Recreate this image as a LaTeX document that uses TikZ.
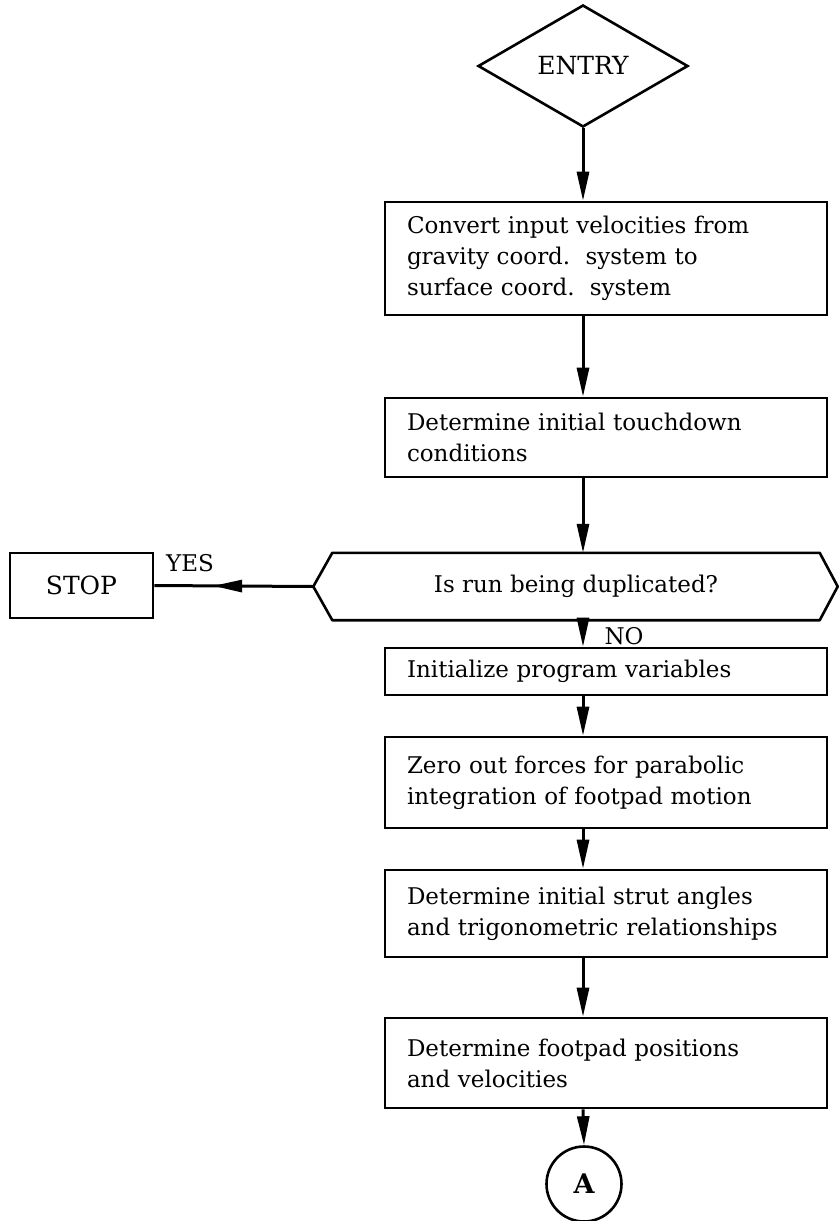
\documentclass[tikz,border=0pt]{standalone}
\usepackage{fontspec}
\setmainfont{DejaVu Serif}
\usetikzlibrary{arrows.meta,shapes.geometric,decorations.markings,calc}
\begin{document}
\begin{tikzpicture}[x=1pt,y=-1pt,
  font=\fontsize{23}{31}\selectfont,
  outline/.style={draw,line width=2.6pt},
  procbox/.style={outline,rectangle,minimum width=442pt,text width=398pt,
    inner xsep=22pt,inner ysep=0pt,align=left},
  flow/.style={line width=3pt,-{Triangle[length=29pt,width=12pt]}},
  plain/.style={line width=3pt},
  midarrow/.style={plain,postaction={decorate},
    decoration={markings,mark=at position #1 with {\arrow{Triangle[length=29pt,width=12pt]}}}}]
\useasboundingbox (0,0) rectangle (839,1221);

% entry point
\node[outline,diamond,minimum width=210pt,minimum height=122pt,inner sep=0pt,
  font=\fontsize{25}{30}\selectfont]
  (entry) at (583,66) {\raisebox{-7pt}{ENTRY}};

% processing blocks
\node[procbox,minimum height=113pt] (b1) at (606,258.5)
  {Convert input velocities from\\gravity coord.\ \ system to\\surface coord.\ \ system};
\node[procbox,minimum height=79pt] (b2) at (606,437.5)
  {Determine initial touchdown\\conditions};

% decision
\node[minimum width=487pt,minimum height=67pt,inner sep=0pt] (dec) at (576,586.5)
  {Is run being duplicated?};
\coordinate (decL) at ($(dec.west)+(-19,0)$);
\coordinate (decR) at ($(dec.east)+(18,0)$);
\draw[outline,line join=round] (dec.north west) -- (dec.north east) -- (decR)
  -- (dec.south east) -- (dec.south west) -- (decL) -- cycle;

\node[outline,rectangle,minimum width=143pt,minimum height=65pt,inner sep=0pt,
  font=\fontsize{25}{30}\selectfont]
  (stop) at (81.5,585.5) {STOP};

\node[procbox,minimum height=47pt] (b3) at (606,671.5)
  {Initialize program variables};
\node[procbox,minimum height=91pt] (b4) at (606,782.5)
  {Zero out forces for parabolic\\integration of footpad motion};
\node[procbox,minimum height=87pt] (b5) at (606,913.5)
  {Determine initial strut angles\\and trigonometric relationships};
\node[procbox,minimum height=90pt] (b6) at (606,1063)
  {Determine footpad positions\\and velocities};

% off-page connector
\node[outline,circle,minimum size=75pt,inner sep=0pt,
  font=\bfseries\fontsize{27}{30}\selectfont] (conA) at (584,1184) {A};

% connectors along the main spine
\draw[flow] (entry.south) -- (entry.south |- b1.north);
\draw[flow] (entry.south |- b1.south) -- (entry.south |- b2.north);
\draw[flow] (entry.south |- b2.south) -- (entry.south |- dec.north);
\draw[flow] (entry.south |- dec.south) -- (entry.south |- b3.north);
\draw[flow] (entry.south |- b3.south) -- (entry.south |- b4.north);
\draw[flow] (entry.south |- b4.south) -- (entry.south |- b5.north);
\draw[flow] (entry.south |- b5.south) -- (entry.south |- b6.north);
\draw[flow] (entry.south |- b6.south) -- (conA.north);

% exit branch
\draw[midarrow=0.63] (decL) -- (stop.east);

\node (yes) at (190,563) {YES};
\node (no) at (624,636) {NO};
\end{tikzpicture}
\end{document}
